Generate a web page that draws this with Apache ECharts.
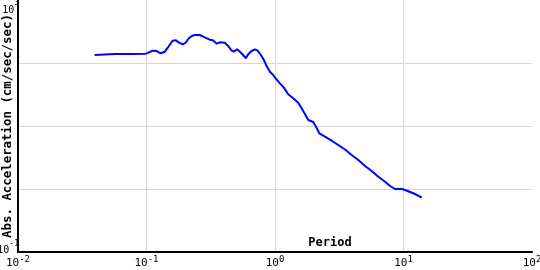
<!DOCTYPE html>
<html><head><meta charset="utf-8">
<script src="https://cdn.jsdelivr.net/npm/echarts@6/dist/echarts.min.js"></script>
<style>html,body{margin:0;padding:0;background:#fff}#c{width:540px;height:270px}</style>
</head><body><div id="c"></div>
<script>
var periods = [0.0395,0.0473,0.0566,0.0741,0.0987,0.106,0.1119,0.1202,0.1291,0.1388,0.1464,0.1593,0.169,0.1784,0.1916,0.2022,0.2134,0.2253,0.2376,0.26,0.2843,0.311,0.3282,0.3526,0.3721,0.4072,0.4296,0.459,0.4784,0.5075,0.5327,0.5651,0.5933,0.6183,0.6571,0.6973,0.7321,0.7767,0.8193,0.8602,0.9127,0.9683,0.998,1.092,1.173,1.267,1.386,1.516,1.612,1.71,1.814,1.87,1.985,2.11,2.21,2.448,2.761,3.108,3.505,3.953,4.449,5.017,5.656,6.37,7.183,7.858,8.595,9.692,10.28,11.25,12.3,13.88];
var accel = [134,136.5,139,139,140.6,149.5,156.8,155,142.6,151.1,174.9,225.9,229.3,213.1,198.2,211.5,246.7,268.3,278.3,278.3,255.8,234.3,229.3,202.5,213.1,210,188.3,159.1,151.1,165,151.1,134,118.7,137.4,155,165,156.8,134,111.6,89.6,72.8,64.5,59.3,47.6,40.6,31.9,27.5,23.4,19.1,15.5,12.45,11.79,11.57,9.3,7.66,6.77,5.84,4.99,4.24,3.47,2.89,2.32,1.93,1.567,1.306,1.116,1.0,1.0,0.964,0.896,0.833,0.728];
var xTicks = [0.01, 100];
var yTicks = [0.1, 1000];
var xName = 'Period';
var yName = 'Abs. Acceleration (cm/sec/sec)';

var font = 'DejaVu Sans Mono';
function expLabel(v){
  var e = Math.round(Math.log10(v));
  return '{a|10}{b|' + e + '}';
}
var rich = {
  a: {fontFamily: font, fontSize: 11, color: '#000'},
  b: {fontFamily: font, fontSize: 9, color: '#000', padding: [0,0,8,0]}
};
var richY = {
  hi: {fontFamily: font, fontSize: 10, color: '#000', padding: [20,0,0,0]},
  hiS: {fontFamily: font, fontSize: 8, color: '#000', padding: [6,0,0,0]},
  lo: {fontFamily: font, fontSize: 10, color: '#000', padding: [0,0,3,0]},
  loS: {fontFamily: font, fontSize: 8, color: '#000', padding: [0,0,16,0]}
};
var data = periods.map(function(p,i){return [p, accel[i]];});
var chart = echarts.init(document.getElementById('c'), null, {renderer:'canvas'});
chart.setOption({
  animation: false,
  grid: {left: 18, right: 8, top: 0, bottom: 18, containLabel: false, outerBoundsMode: 'none'},
  xAxis: {
    type: 'log', logBase: 10, min: xTicks[0], max: xTicks[1],
    name: xName, nameLocation: 'middle', nameGap: -15, nameMoveOverlap: false,
    nameTextStyle: {fontFamily: font, fontWeight: 'bold', fontSize: 12, color: '#000', padding: [0,0,0,110]},
    axisLine: {lineStyle: {color: '#000', width: 2}},
    axisTick: {show: false},
    axisLabel: {formatter: expLabel, rich: rich, margin: 3},
    splitLine: {show: true, showMinLine: false, showMaxLine: false, lineStyle: {color: '#d6d6d6', width: 1}}
  },
  yAxis: {
    type: 'log', logBase: 10, min: yTicks[0], max: yTicks[1],
    name: yName, nameLocation: 'middle', nameGap: 4, nameRotate: 90, nameMoveOverlap: false,
    nameTextStyle: {fontFamily: font, fontWeight: 'bold', fontSize: 12.4, color: '#000'},
    axisLine: {lineStyle: {color: '#000', width: 2}},
    axisTick: {show: false},
    axisLabel: {
      formatter: function(v){
        var e = Math.round(Math.log10(v));
        if (e === 3) return '{hi|10}{hiS|' + e + '}';
        if (e === -1) return '{lo|10}{loS|' + e + '}';
        return '';
      },
      rich: richY, margin: -1
    },
    splitLine: {show: true, showMinLine: false, showMaxLine: false, lineStyle: {color: '#d6d6d6', width: 1}}
  },
  series: [{
    type: 'line', data: data, showSymbol: false, smooth: false,
    lineStyle: {color: '#0000ff', width: 2}
  }]
});
</script></body></html>
